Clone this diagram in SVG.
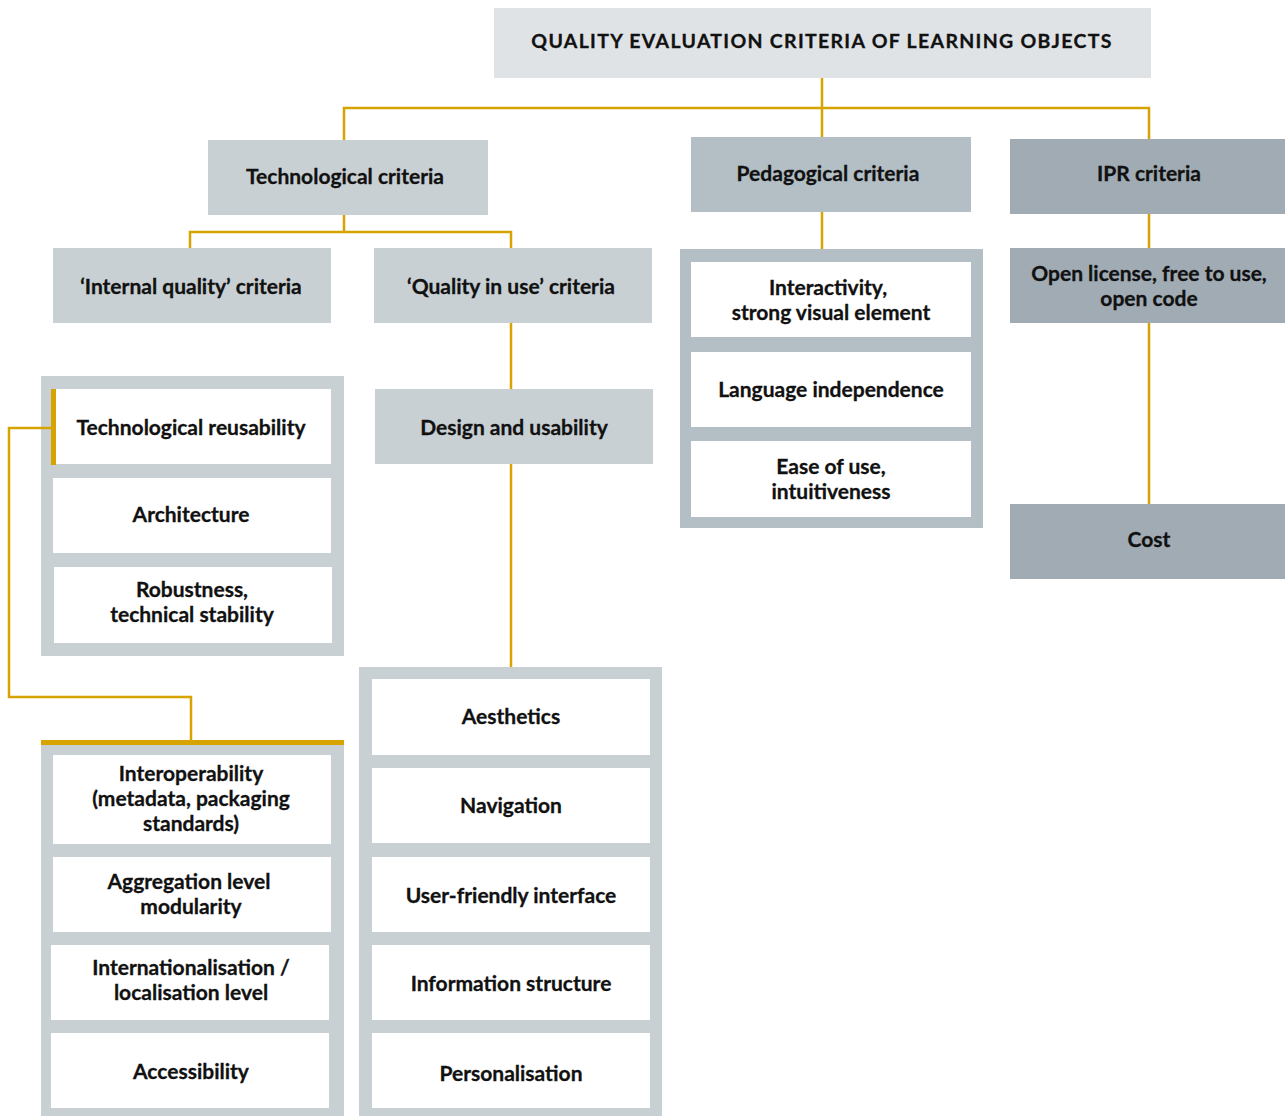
<svg xmlns="http://www.w3.org/2000/svg" width="1285" height="1116" viewBox="0 0 1285 1116">
<style>
text{font-family:Lato,"Open Sans","Liberation Sans",sans-serif;font-weight:700;font-size:21px;fill:#111111;text-anchor:middle;stroke:#111111;stroke-width:0.3px}
.title{font-size:19.5px;letter-spacing:1.3px}
.l1{fill:#c9d0d4}
.l2{fill:#b3bec5}
.l3{fill:#a0abb3}
.tt{fill:#dfe3e6}
.w{fill:#ffffff}
.c{fill:none;stroke:#d6a300;stroke-width:2.5}
</style>
<g id="title"><rect class="tt" x="494" y="8" width="657" height="70"/><text class="title" x="822" y="48">QUALITY EVALUATION CRITERIA OF LEARNING OBJECTS</text></g>
<g id="tech"><rect class="l1" x="208" y="140" width="280" height="75"/><text x="345" y="184">Technological criteria</text></g>
<g id="peda"><rect class="l2" x="691" y="137" width="280" height="75"/><text x="828" y="181">Pedagogical criteria</text></g>
<g id="ipr"><rect class="l3" x="1010" y="139" width="275" height="75"/><text x="1149" y="181">IPR criteria</text></g>
<g id="internal"><rect class="l1" x="53" y="248" width="278" height="75"/><text x="191" y="294">‘Internal quality’ criteria</text></g>
<g id="inuse"><rect class="l1" x="374" y="248" width="278" height="75"/><text x="511" y="294">‘Quality in use’ criteria</text></g>
<g id="design"><rect class="l1" x="375" y="389" width="278" height="75"/><text x="514" y="435">Design and usability</text></g>
<g id="panel-internal"><rect class="l1" x="41" y="376" width="303" height="280"/></g>
<g id="reusability"><rect class="w" x="56" y="389" width="275" height="75"/><text x="191" y="435">Technological reusability</text></g>
<g id="architecture"><rect class="w" x="53" y="478" width="278" height="75"/><text x="191" y="522">Architecture</text></g>
<g id="robustness"><rect class="w" x="54" y="567" width="278" height="76"/><text x="192" y="597">Robustness,</text><text x="192" y="622">technical stability</text></g>
<g id="panel-reuse"><rect class="l1" x="41" y="745" width="303" height="371"/></g>
<g id="interop"><rect class="w" x="53" y="755" width="278" height="89"/><text x="191" y="781">Interoperability</text><text x="191" y="806">(metadata, packaging</text><text x="191" y="831">standards)</text></g>
<g id="aggregation"><rect class="w" x="53" y="857" width="278" height="75"/><text x="189" y="889">Aggregation level</text><text x="191" y="914">modularity</text></g>
<g id="i18n"><rect class="w" x="51" y="945" width="278" height="75"/><text x="191" y="975">Internationalisation /</text><text x="191" y="1000">localisation level</text></g>
<g id="accessibility"><rect class="w" x="51" y="1033" width="278" height="75"/><text x="191" y="1079">Accessibility</text></g>
<g id="panel-design"><rect class="l1" x="359" y="667" width="303" height="449"/></g>
<g id="aesthetics"><rect class="w" x="372" y="679" width="278" height="76"/><text x="511" y="724">Aesthetics</text></g>
<g id="navigation"><rect class="w" x="372" y="768" width="278" height="75"/><text x="511" y="813">Navigation</text></g>
<g id="ui"><rect class="w" x="372" y="857" width="278" height="75"/><text x="511" y="903">User-friendly interface</text></g>
<g id="infostruct"><rect class="w" x="372" y="945" width="278" height="75"/><text x="511" y="991">Information structure</text></g>
<g id="personal"><rect class="w" x="372" y="1033" width="278" height="75"/><text x="511" y="1081">Personalisation</text></g>
<g id="panel-peda"><rect class="l2" x="680" y="249" width="303" height="279"/></g>
<g id="interactivity"><rect class="w" x="691" y="262" width="280" height="75"/><text x="828" y="295">Interactivity,</text><text x="831" y="320">strong visual element</text></g>
<g id="language"><rect class="w" x="691" y="352" width="280" height="75"/><text x="831" y="397">Language independence</text></g>
<g id="ease"><rect class="w" x="691" y="441" width="280" height="76"/><text x="831" y="474">Ease of use,</text><text x="831" y="499">intuitiveness</text></g>
<g id="license"><rect class="l3" x="1010" y="248" width="275" height="75"/><text x="1149" y="281">Open license, free to use,</text><text x="1149" y="306">open code</text></g>
<g id="cost"><rect class="l3" x="1010" y="504" width="275" height="75"/><text x="1149" y="547">Cost</text></g>
<g id="connectors">
<path class="c" d="M822 78V137M344 140V108H1149V139"/>
<path class="c" d="M822 212V249"/>
<path class="c" d="M1149 214V248M1149 323V504"/>
<path class="c" d="M344 215V232M190 248V232H511V248"/>
<path class="c" d="M511 323V389M511 464V667"/>
<path class="c" d="M51 428H9V697H191V740"/>
<rect x="51" y="389" width="5" height="76" fill="#d6a300"/>
<rect x="41" y="740" width="303" height="5" fill="#d6a300"/>
</g>
</svg>
